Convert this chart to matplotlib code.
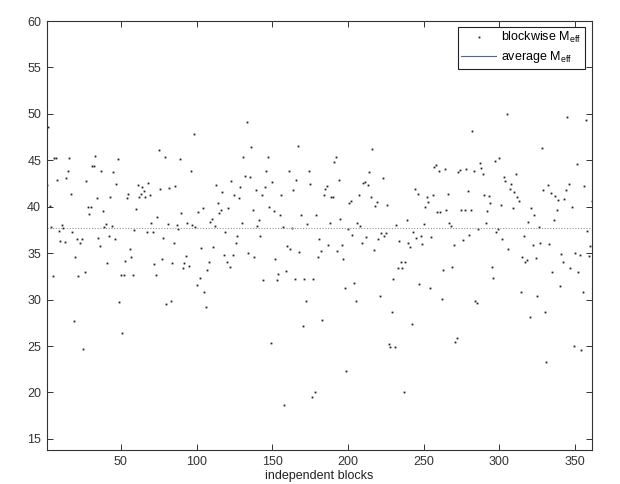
import numpy as np
import matplotlib
matplotlib.use('Agg')
import matplotlib.pyplot as plt
from matplotlib.lines import Line2D

plt.rcParams['font.family'] = ['Liberation Sans', 'DejaVu Sans']

# blockwise M_eff values, one per independent block
m_eff = [
    42.3, 48.6, 40.1, 37.8, 32.5, 45.2, 45.3, 42.9, 37.4, 36.3,
    38.0, 37.7, 36.2, 43.1, 43.8, 45.2, 41.4, 37.3, 27.7, 34.6,
    36.5, 32.5, 36.1, 36.5, 24.7, 33.0, 42.8, 40.0, 39.2, 40.0,
    44.4, 44.4, 45.5, 40.9, 36.6, 35.8, 43.8, 39.5, 37.8, 38.1,
    33.9, 36.8, 41.0, 37.9, 43.7, 36.5, 42.4, 45.1, 29.7, 32.7,
    26.4, 32.6, 34.2, 40.9, 41.4, 35.5, 34.6, 32.6, 37.5, 39.8,
    42.3, 41.1, 41.4, 42.1, 41.7, 41.1, 37.3, 42.6, 41.3, 38.2,
    37.3, 33.8, 32.7, 38.9, 46.1, 41.9, 34.4, 36.6, 45.4, 29.5,
    38.1, 42.0, 29.9, 33.9, 36.1, 42.2, 38.0, 37.6, 45.1, 39.3,
    33.4, 33.9, 34.7, 38.3, 33.6, 43.8, 38.0, 47.8, 37.8, 31.6,
    39.4, 32.3, 35.6, 39.9, 30.8, 29.2, 33.2, 34.1, 38.4, 38.7,
    35.7, 37.9, 42.3, 40.4, 39.3, 39.6, 41.6, 34.8, 37.3, 34.0,
    39.9, 33.5, 42.8, 34.8, 41.3, 36.1, 36.8, 40.9, 42.1, 38.2,
    45.4, 43.3, 49.1, 35.0, 43.2, 46.4, 39.6, 34.6, 41.8, 37.9,
    38.6, 36.8, 41.3, 32.1, 42.1, 43.9, 45.4, 40.0, 25.3, 42.7,
    39.5, 34.4, 32.1, 32.8, 39.1, 41.3, 37.8, 18.7, 33.1, 35.8,
    43.8, 35.5, 37.7, 41.8, 32.2, 42.9, 46.5, 35.1, 39.1, 27.2,
    32.2, 29.8, 38.1, 43.8, 42.5, 19.5, 32.2, 20.0, 39.1, 34.6,
    36.5, 35.2, 27.8, 41.3, 41.9, 42.2, 35.9, 38.3, 41.0, 41.1,
    44.8, 45.4, 35.2, 42.9, 38.7, 35.9, 34.4, 31.3, 22.3, 37.6,
    40.4, 40.6, 37.0, 31.8, 29.9, 38.3, 41.3, 37.9, 36.1, 42.6,
    42.7, 36.7, 42.3, 43.7, 41.0, 46.2, 35.3, 40.1, 40.5, 36.5,
    30.4, 37.2, 43.1, 36.8, 37.2, 40.2, 25.2, 24.9, 28.7, 32.2,
    24.9, 38.0, 33.4, 36.3, 34.0, 33.4, 20.0, 34.0, 38.6, 36.1,
    35.7, 27.4, 37.3, 41.9, 36.6, 41.4, 31.7, 36.8, 36.0, 38.1,
    40.0, 41.1, 40.5, 31.2, 36.7, 41.3, 44.3, 44.5, 39.4, 43.9,
    39.4, 30.1, 33.2, 44.1, 39.7, 41.4, 38.2, 37.9, 33.5, 35.9,
    25.4, 25.9, 43.7, 44.0, 39.7, 36.4, 39.7, 44.1, 41.7, 37.0,
    39.7, 48.2, 43.8, 29.9, 29.6, 37.6, 44.7, 44.2, 43.5, 41.3,
    38.2, 39.5, 41.2, 40.4, 33.5, 32.3, 44.9, 37.3, 37.6, 45.3,
    40.2, 36.5, 43.2, 42.8, 50.0, 35.5, 41.9, 42.4, 39.9, 41.6,
    43.5, 41.1, 40.6, 30.8, 34.6, 36.8, 34.0, 34.3, 38.4, 28.1,
    39.9, 35.9, 39.1, 34.5, 30.4, 37.8, 36.1, 46.3, 41.8, 28.7,
    23.3, 42.3, 36.0, 41.5, 33.0, 38.6, 41.2, 39.6, 40.7, 31.5,
    34.9, 34.1, 40.8, 41.8, 49.7, 42.4, 33.4, 40.0, 25.0, 35.0,
    44.6, 33.0, 34.8, 24.6, 30.8, 42.2, 49.3, 37.4, 34.7, 35.8,
    40.6,
]
avg_m_eff = 37.7

blocks = np.arange(1, len(m_eff) + 1)
x_ticks = [50, 100, 150, 200, 250, 300, 350]
y_ticks = [15, 20, 25, 30, 35, 40, 45, 50, 55, 60]

fig = plt.figure(figsize=(6.2, 4.84), dpi=100)
ax = fig.add_axes([0.0753, 0.0702, 0.879, 0.8864])

ax.plot(blocks, m_eff, linestyle='none', marker='s', markersize=1.3,
        color='#222222', markeredgewidth=0)
ax.axhline(avg_m_eff, color='#8a97aa', linestyle=(0, (1, 1.5)), linewidth=0.8)

ax.set_xlim(1, len(m_eff))
ax.set_ylim(13.8, 60)
ax.set_xticks(x_ticks)
ax.set_yticks(y_ticks)
ax.tick_params(direction='in', top=True, right=True, length=4.5, width=0.7,
               labelsize=9, colors='#333333', pad=4)
for s in ax.spines.values():
    s.set_color('#333333')
    s.set_linewidth(0.8)

ax.set_xlabel('independent blocks', fontsize=9, color='#222222', labelpad=2)

handles = [
    Line2D([], [], linestyle='none', marker='s', markersize=1.3,
           color='#222222', markeredgewidth=0),
    Line2D([], [], color='#4a6a9a', linewidth=0.8),
]
labels = ['blockwise M$_\\mathregular{eff}$', 'average M$_\\mathregular{eff}$']
leg = ax.legend(handles, labels, loc='upper right', bbox_to_anchor=(0.988, 0.987),
                borderaxespad=0, fancybox=False, fontsize=9, handlelength=2.8,
                handletextpad=0.4, borderpad=0.3, labelspacing=0.3, framealpha=1)
leg.get_frame().set_edgecolor('#222222')
leg.get_frame().set_linewidth(0.8)

plt.savefig('out.png', dpi=100)
